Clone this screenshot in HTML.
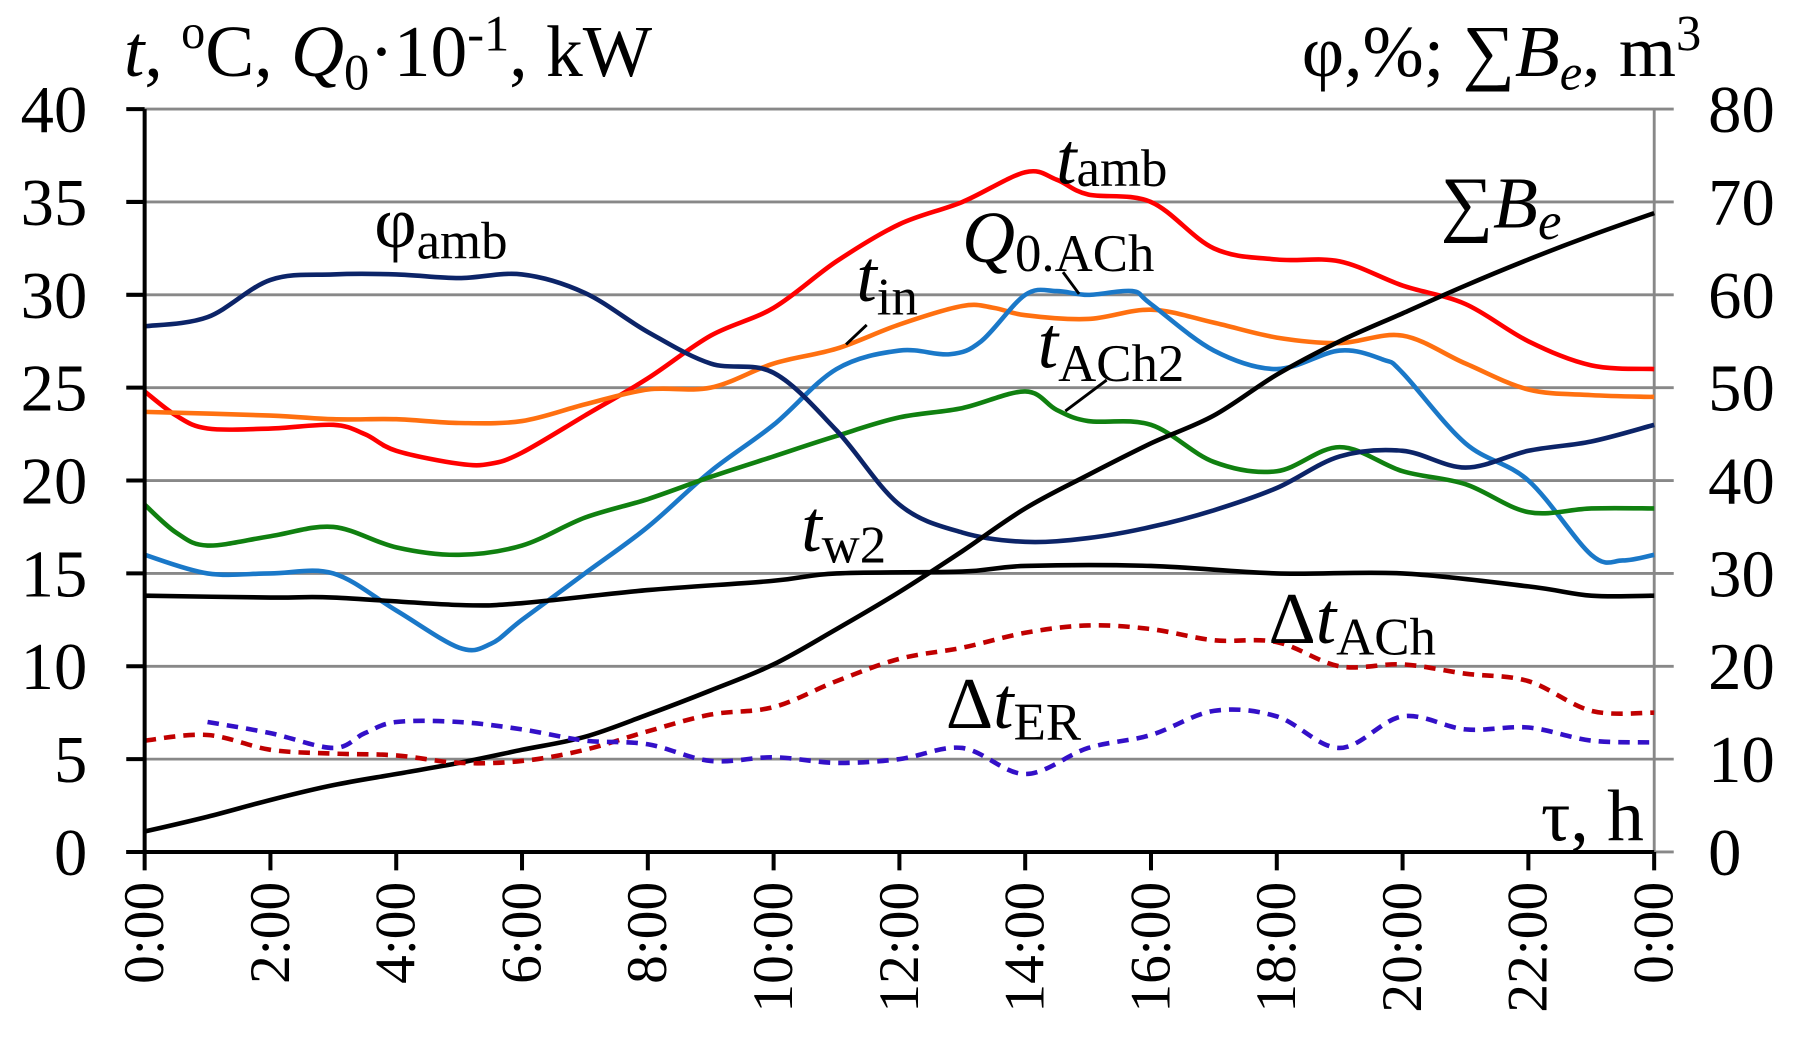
<!DOCTYPE html>
<html><head><meta charset="utf-8"><style>
html,body{margin:0;padding:0;background:#fff}
svg{display:block}
text{font-family:"Liberation Serif",serif;fill:#000}
</style></head><body>
<svg id="c" width="1800" height="1038" viewBox="0 0 1568 904" preserveAspectRatio="none" xmlns="http://www.w3.org/2000/svg">
<g id="grid" stroke="#888" stroke-width="2.5"></g>
<line x1="1441" y1="95" x2="1441" y2="742" stroke="#888" stroke-width="2.5"/>
<g id="series" fill="none" stroke-linejoin="round" stroke-linecap="butt"></g>
<line x1="126" y1="95" x2="126" y2="742" stroke="#000" stroke-width="3.5"/>
<line x1="110" y1="742" x2="1441" y2="742" stroke="#000" stroke-width="3.5"/>
<g id="ticks" stroke="#000" stroke-width="3.5"></g>
<g id="labels" font-size="58"></g>
<g font-size="64">
<text x="108" y="66"><tspan font-style="italic">t</tspan>, <tspan font-size="42" dy="-24">o</tspan><tspan dy="24">C, </tspan><tspan font-style="italic">Q</tspan><tspan font-size="44" dy="12">0</tspan><tspan dy="-12">·10</tspan><tspan font-size="44" dy="-22">-1</tspan><tspan dy="22">, kW</tspan></text>
<text x="1482" y="66" text-anchor="end">φ,%; ∑<tspan font-style="italic">B</tspan><tspan font-style="italic" font-size="44" dy="12">e</tspan><tspan dy="-12">, m</tspan><tspan font-size="44" dy="-22">3</tspan></text>
<text x="326" y="215">φ<tspan font-size="46" dy="10">amb</tspan></text>
<text x="920" y="160" font-style="italic">t<tspan font-style="normal" font-size="46" dy="2">amb</tspan></text>
<text x="838" y="228" font-style="italic">Q<tspan font-style="normal" font-size="46" dy="8">0.ACh</tspan></text>
<text x="746" y="262" font-style="italic">t<tspan font-style="normal" font-size="46" dy="12">in</tspan></text>
<text x="904" y="320" font-style="italic">t<tspan font-style="normal" font-size="46" dy="12">ACh2</tspan></text>
<text x="1255" y="198">∑<tspan font-style="italic">B</tspan><tspan font-style="italic" font-size="46" dy="10">e</tspan></text>
<text x="698" y="480" font-style="italic">t<tspan font-style="normal" font-size="46" dy="10">w2</tspan></text>
<text x="1105" y="560">Δ<tspan font-style="italic">t</tspan><tspan font-size="46" dy="10">ACh</tspan></text>
<text x="824" y="634">Δ<tspan font-style="italic">t</tspan><tspan font-size="46" dy="10">ER</tspan></text>
<text x="1432" y="732" text-anchor="end">τ, h</text>
</g>
<g stroke="#000" stroke-width="2.5">
<line x1="737" y1="300" x2="755" y2="283"/>
<line x1="926" y1="237" x2="940" y2="256"/>
<line x1="928" y1="358" x2="964" y2="331"/>
</g>
</svg>
<script>
var NS="http://www.w3.org/2000/svg";
function X(h){return 126+h*54.79;}
function Y(v){return 742-v*16.175;}
function el(p,n,a,t){var e=document.createElementNS(NS,n);for(var k in a)e.setAttribute(k,a[k]);if(t!==undefined)e.textContent=t;p.appendChild(e);return e;}
var g=document.getElementById('grid'),tk=document.getElementById('ticks'),lb=document.getElementById('labels');
for(var i=0;i<=8;i++){var y=Y(i*5);
 if(i>0)el(g,'line',{x1:126,y1:y,x2:1458,y2:y});
 el(tk,'line',{x1:110,y1:y,x2:126,y2:y});
 el(lb,'text',{x:76,y:y+20,'text-anchor':'end'},String(i*5));
 el(lb,'text',{x:1488,y:y+20},String(i*10));}
el(g,'line',{x1:1441,y1:742,x2:1458,y2:742});
for(var h=0;h<=24;h+=2){var x=X(h);
 el(tk,'line',{x1:x,y1:742,x2:x,y2:758});
 var lab=(h%24)+":00";
 el(lb,'text',{x:0,y:0,'font-size':50,'text-anchor':'end',transform:'translate('+(x+16)+',768) rotate(-90)'},lab);}
function path(pts){var p=pts.map(function(a){return [X(a[0]),Y(a[1])];});
 var d="M"+p[0][0].toFixed(1)+","+p[0][1].toFixed(1);
 for(var i=0;i<p.length-1;i++){var p0=p[i-1]||p[i],p1=p[i],p2=p[i+1],p3=p[i+2]||p2;
  var c1=[p1[0]+(p2[0]-p0[0])/6,p1[1]+(p2[1]-p0[1])/6],c2=[p2[0]-(p3[0]-p1[0])/6,p2[1]-(p3[1]-p1[1])/6];
  d+=" C"+c1[0].toFixed(1)+","+c1[1].toFixed(1)+" "+c2[0].toFixed(1)+","+c2[1].toFixed(1)+" "+p2[0].toFixed(1)+","+p2[1].toFixed(1);}
 return d;}
var S=[
["#ff0000",4,null,[[0,24.8],[0.5,23.5],[1,22.8],[2,22.8],[3,23],[3.5,22.5],[4,21.6],[5,20.9],[5.5,20.9],[6,21.5],[7,23.5],[8,25.5],[9,27.8],[10,29.3],[11,31.8],[12,33.8],[13,35],[14,36.6],[14.5,36.2],[15,35.4],[16,35],[17,32.5],[18,31.9],[19,31.8],[20,30.5],[21,29.5],[22,27.5],[23,26.2],[24,26]]],
["#ff7010",4,null,[[0,23.7],[2,23.5],[3,23.3],[4,23.3],[5,23.1],[6,23.2],[7,24.1],[8,24.9],[9,25],[10,26.3],[11,27.1],[12,28.4],[13,29.4],[13.5,29.3],[14,28.9],[15,28.7],[16,29.2],[17,28.5],[18,27.7],[19,27.4],[20,27.8],[21,26.3],[22,24.9],[23,24.6],[24,24.5]]],
["#1a78c8",4,null,[[0,16],[1,15],[2,15],[3,15],[4,13],[5,11],[5.5,11.2],[6,12.5],[7,15],[8,17.5],[9,20.5],[10,23],[11,26],[12,27],[12.8,26.8],[13.3,27.5],[14,30],[14.5,30.2],[15,30],[15.7,30.2],[16,29.5],[17,27],[18,26],[19,27],[19.7,26.5],[20,25.8],[21,22],[22,20],[23,16],[23.5,15.7],[24,16]]],
["#108010",4,null,[[0,18.7],[0.5,17.2],[1,16.5],[2,17],[3,17.5],[4,16.4],[5,16],[6,16.5],[7,18],[8,19],[9,20.2],[10,21.3],[11,22.4],[12,23.4],[13,23.9],[14,24.8],[14.5,23.8],[15,23.2],[16,23],[17,21],[18,20.5],[19,21.8],[20,20.5],[21,19.8],[22,18.3],[23,18.5],[24,18.5]]],
["#0c2468",4,null,[[0,28.3],[1,28.8],[2,30.8],[3,31.1],[4,31.1],[5,30.9],[6,31.1],[7,30.1],[8,28],[9,26.3],[10,25.8],[11,22.7],[12,18.7],[13,17.2],[14,16.7],[15,16.9],[16,17.5],[17,18.4],[18,19.6],[19,21.3],[20,21.6],[21,20.7],[22,21.6],[23,22.1],[24,23]]],
["#000",4,null,[[0,13.8],[2,13.7],[3,13.7],[5,13.3],[6,13.4],[8,14.1],[10,14.6],[11,15],[13,15.1],[14,15.4],[16,15.4],[18,15],[20,15],[22,14.3],[23,13.8],[24,13.8]]],
["#000",4,null,[[0,1.1],[1,1.9],[2,2.8],[3,3.6],[4,4.2],[5,4.8],[6,5.5],[7,6.2],[8,7.4],[9,8.7],[10,10.1],[11,12],[12,14],[13,16.2],[14,18.5],[15,20.3],[16,22],[17,23.5],[18,25.7],[19,27.5],[20,29],[21,30.5],[22,31.9],[23,33.2],[24,34.4]]],
["#c00000",4,"10,7",[[0,6],[1,6.3],[2,5.5],[3,5.3],[4,5.2],[5,4.8],[6,4.9],[7,5.5],[8,6.5],[9,7.4],[10,7.8],[11,9.2],[12,10.4],[13,11],[14,11.8],[15,12.2],[16,12],[17,11.4],[18,11.3],[19,10],[20,10.1],[21,9.6],[22,9.2],[23,7.6],[24,7.5]]],
["#3310c8",4,"10,7",[[1,7],[2,6.4],[3,5.6],[3.5,6.4],[4,7],[5,7],[6,6.6],[7,6],[8,5.8],[9,4.9],[10,5.1],[11,4.8],[12,5],[13,5.6],[14,4.2],[15,5.6],[16,6.3],[17,7.6],[18,7.3],[19,5.6],[20,7.3],[21,6.6],[22,6.7],[23,6],[24,5.9]]]
];
var sg=document.getElementById('series');
S.forEach(function(s){var a={d:path(s[3]),stroke:s[0],'stroke-width':s[1]};if(s[2])a['stroke-dasharray']=s[2];el(sg,'path',a);});
</script>
</body></html>
